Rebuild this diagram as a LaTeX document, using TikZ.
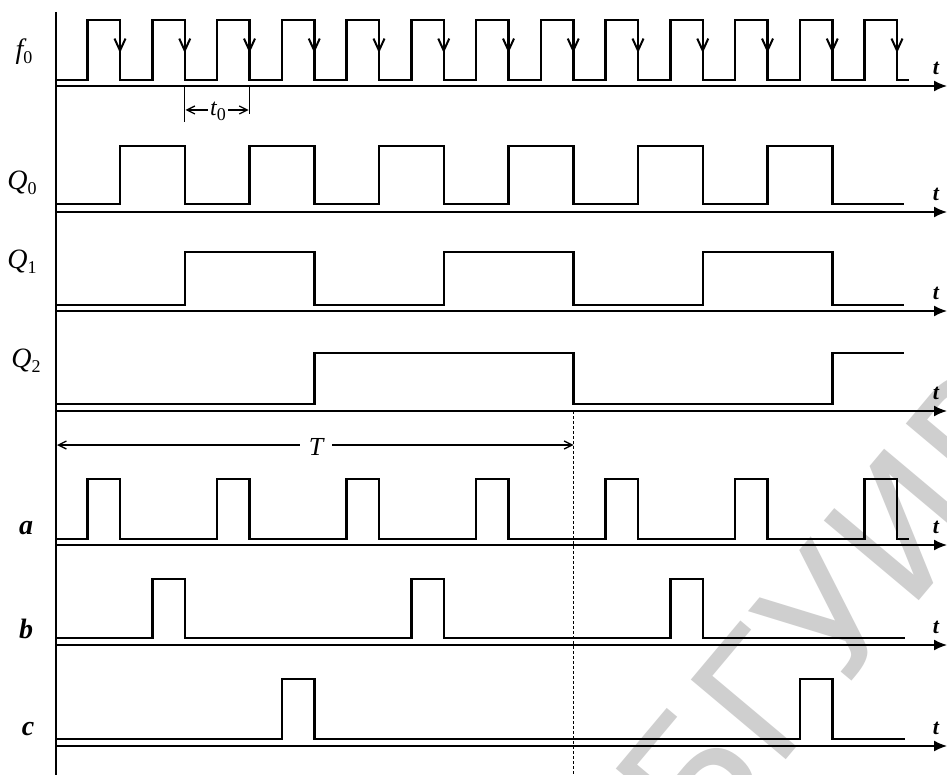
\documentclass[tikz,border=0pt]{standalone}
\usepackage{fontspec}
\setmainfont{Liberation Serif}
\newfontfamily\wmfont{DejaVu Sans}
\usetikzlibrary{arrows.meta}
\newcommand\subdig[1]{\raisebox{-5pt}{\fontsize{18}{18}\selectfont\upshape #1}}
\begin{document}
\begin{tikzpicture}[x=1pt,y=-1pt,
  wave/.style={line width=2.5pt,line join=miter},
  axisline/.style={line width=1.6pt,-{Latex[length=13pt,width=11pt]}},
  lab/.style={font=\fontsize{28}{28}\selectfont\itshape,inner sep=0pt},
  blab/.style={font=\fontsize{28}{28}\selectfont\bfseries\itshape,inner sep=0pt},
  tlab/.style={font=\fontsize{22}{22}\selectfont\bfseries\itshape,inner sep=0pt},
  edgearrow/.style={line width=2pt,-{Straight Barb[length=12pt,width=11pt]}},
  dimarrow/.style={line width=1.3pt,-{Straight Barb[length=8pt,width=8pt]}},
  ext/.style={line width=1.3pt},
  vdash/.style={line width=1pt,dash pattern=on 3pt off 2pt}]
\useasboundingbox (0,0) rectangle (947,775);
\fill[white] (0,0) rectangle (947,775);
% watermark
\begin{scope}
\clip (0,0) rectangle (947,775);
\node[rotate=50,anchor=base west,inner sep=0pt,text=black!19,font=\wmfont\fontsize{170}{170}\selectfont] (wm) at (700,862) {БГУИР};
\end{scope}
% vertical axis
\coordinate (vtop) at (56,12);
\coordinate (vbot) at (56,775);
\draw[line width=1.6pt] (vtop) -- (vbot);
% time axes
\foreach \n/\y in {f/86,q0/212,q1/311,q2/411,a/545,b/645,c/746}{
  \coordinate (\n s) at (56,\y);
  \coordinate (\n e) at (947,\y);
  \draw[axisline] (\n s) -- (\n e);
  \node[tlab] (\n t) at (936,\y-18) {t};
}
% f0
\draw[wave] (56,80)
  \foreach \k in {0,...,12}{ -- ({87.6+\k*64.75},80) -- ({87.6+\k*64.75},20) -- ({120+\k*64.75},20) -- ({120+\k*64.75},80) }
  -- (909,80);
\foreach \k in {0,...,12}{
  \coordinate (fa\k) at ({120+\k*64.75},20);
  \coordinate (fb\k) at ({120+\k*64.75},53);
  \draw[edgearrow] (fa\k) -- (fb\k);
}
% Q0
\draw[wave] (56,204)
  \foreach \s/\e in {120/184.75,249.5/314.25,379/443.75,508.5/573.25,638/702.75,767.5/832.25}{ -- (\s,204) -- (\s,146) -- (\e,146) -- (\e,204) }
  -- (904,204);
% Q1
\draw[wave] (56,305)
  \foreach \s/\e in {184.75/314.25,443.75/573.25,702.75/832.25}{ -- (\s,305) -- (\s,252) -- (\e,252) -- (\e,305) }
  -- (904,305);
% Q2
\draw[wave] (56,404) -- (314.25,404) -- (314.25,353) -- (573.25,353) -- (573.25,404) -- (832.25,404) -- (832.25,353) -- (904,353);
% a
\draw[wave] (56,539)
  \foreach \k in {0,2,4,6,8,10,12}{ -- ({87.6+\k*64.75},539) -- ({87.6+\k*64.75},479) -- ({120+\k*64.75},479) -- ({120+\k*64.75},539) }
  -- (909,539);
% b
\draw[wave] (56,638)
  \foreach \k in {1,5,9}{ -- ({87.6+\k*64.75},638) -- ({87.6+\k*64.75},579) -- ({120+\k*64.75},579) -- ({120+\k*64.75},638) }
  -- (905,638);
% c
\draw[wave] (56,739)
  \foreach \k in {3,11}{ -- ({87.6+\k*64.75},739) -- ({87.6+\k*64.75},679) -- ({120+\k*64.75},679) -- ({120+\k*64.75},739) }
  -- (905,739);
% labels
\node[lab] (lf) at (24,52) {f\subdig{0}};
\node[lab] (lq0) at (22,183) {Q\subdig{0}};
\node[lab] (lq1) at (22,262) {Q\subdig{1}};
\node[lab] (lq2) at (26,361) {Q\subdig{2}};
\node[blab] (la) at (26,528) {a};
\node[blab] (lb) at (26,629) {b};
\node[blab] (lc) at (28,729) {c};
% t0 dimension
\coordinate (e1a) at (184.75,86);
\coordinate (e1b) at (184.75,122);
\coordinate (e2a) at (249.5,86);
\coordinate (e2b) at (249.5,114);
\draw[ext] (e1a) -- (e1b);
\draw[ext] (e2a) -- (e2b);
\coordinate (d1) at (185.5,110);
\coordinate (d2) at (248.7,110);
\node[font=\fontsize{24}{24}\selectfont\itshape,inner sep=2pt] (t0lab) at (218,111) {t\subdig{0}};
\draw[dimarrow] (t0lab.west|-d1) -- (d1);
\draw[dimarrow] (t0lab.east|-d2) -- (d2);
% T dimension
\coordinate (T1) at (57,445);
\coordinate (T2) at (573.5,445);
\node[font=\fontsize{26}{26}\selectfont\itshape,inner sep=9pt] (Tlab) at (316,447) {T};
\draw[dimarrow] (Tlab.west|-T1) -- (T1);
\draw[dimarrow] (Tlab.east|-T2) -- (T2);
% dashed line
\coordinate (dl1) at (573.25,411);
\coordinate (dl2) at (573.25,775);
\draw[vdash] (dl1) -- (dl2);
\end{tikzpicture}
\end{document}
